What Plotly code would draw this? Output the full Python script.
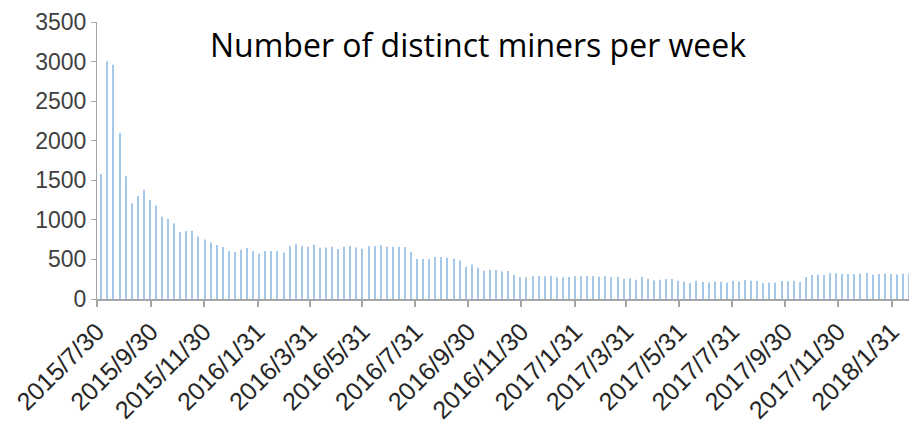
import datetime as dt
import plotly.graph_objects as go

# Weekly count of distinct miners
first_week = dt.date(2015, 8, 4)
miners = [
    1580, 3000, 2960, 2100, 1550, 1210, 1300, 1380, 1250, 1180,
    1040, 1015, 955, 846, 859, 863, 791, 753, 715, 682,
    657, 606, 594, 623, 644, 602, 572, 606, 602, 606,
    585, 670, 699, 670, 661, 686, 648, 652, 661, 632,
    661, 670, 652, 636, 665, 670, 678, 661, 661, 661,
    657, 598, 509, 505, 501, 531, 531, 522, 509, 488,
    408, 437, 395, 358, 370, 366, 349, 354, 303, 278,
    273, 286, 290, 286, 294, 273, 273, 278, 286, 286,
    290, 290, 282, 286, 278, 278, 257, 261, 244, 278,
    257, 235, 244, 253, 253, 231, 219, 206, 231, 215,
    210, 219, 219, 206, 231, 219, 240, 231, 227, 202,
    210, 206, 227, 223, 231, 215, 278, 303, 311, 303,
    328, 324, 320, 316, 316, 320, 328, 307, 316, 320,
    316, 311, 320, 320, 332,
]
weeks = [first_week + dt.timedelta(days=7 * i) for i in range(len(miners))]

tick_dates = [
    "2015-07-30", "2015-09-30", "2015-11-30", "2016-01-31", "2016-03-31",
    "2016-05-31", "2016-07-31", "2016-09-30", "2016-11-30", "2017-01-31",
    "2017-03-31", "2017-05-31", "2017-07-31", "2017-09-30", "2017-11-30",
    "2018-01-31",
]
tick_labels = [
    "2015/7/30", "2015/9/30", "2015/11/30", "2016/1/31", "2016/3/31",
    "2016/5/31", "2016/7/31", "2016/9/30", "2016/11/30", "2017/1/31",
    "2017/3/31", "2017/5/31", "2017/7/31", "2017/9/30", "2017/11/30",
    "2018/1/31",
]
y_ticks = [0, 500, 1000, 1500, 2000, 2500, 3000, 3500]

title_text = "Number of distinct miners per week"

fig = go.Figure(
    go.Bar(
        x=weeks,
        y=miners,
        width=1.2 * 86400000,
        marker=dict(color="#A3C8EA", line=dict(width=0)),
        hoverinfo="x+y",
    )
)

# The page body adds an 8px offset, so the figure is 8px smaller than the window.
axis_grey = "#A6A6A6"
fig.update_layout(
    width=909,
    height=415,
    margin=dict(l=89, r=1, t=14, b=124),
    paper_bgcolor="white",
    plot_bgcolor="white",
    showlegend=False,
    font=dict(family="Liberation Sans, Arial, sans-serif", color="#404040"),
    xaxis=dict(
        type="date",
        range=["2015-07-30", "2018-02-28"],
        tickmode="array",
        tickvals=tick_dates,
        ticktext=tick_labels,
        tickangle=-45,
        tickfont=dict(size=25, color="#262626"),
        showgrid=False,
        showline=True,
        linecolor=axis_grey,
        linewidth=2,
        ticks="outside",
        ticklen=6,
        tickwidth=2,
        tickcolor=axis_grey,
        zeroline=False,
        automargin=False,
        fixedrange=True,
    ),
    yaxis=dict(
        range=[0, 3500],
        tickmode="array",
        tickvals=y_ticks,
        ticktext=[str(v) for v in y_ticks],
        tickfont=dict(size=23, color="#404040"),
        showgrid=False,
        showline=True,
        linecolor=axis_grey,
        linewidth=1,
        ticks="outside",
        ticklen=5,
        tickwidth=1,
        tickcolor=axis_grey,
        zeroline=False,
        automargin=False,
        fixedrange=True,
    ),
    annotations=[
        dict(
            text=title_text,
            xref="paper",
            yref="paper",
            x=(477.5 - 97) / 819,
            y=(299 - 45) / 277,
            xanchor="center",
            yanchor="middle",
            showarrow=False,
            font=dict(family="Open Sans, Lato, sans-serif", size=32, color="#000000"),
        )
    ],
)

fig.write_html("out.html")
